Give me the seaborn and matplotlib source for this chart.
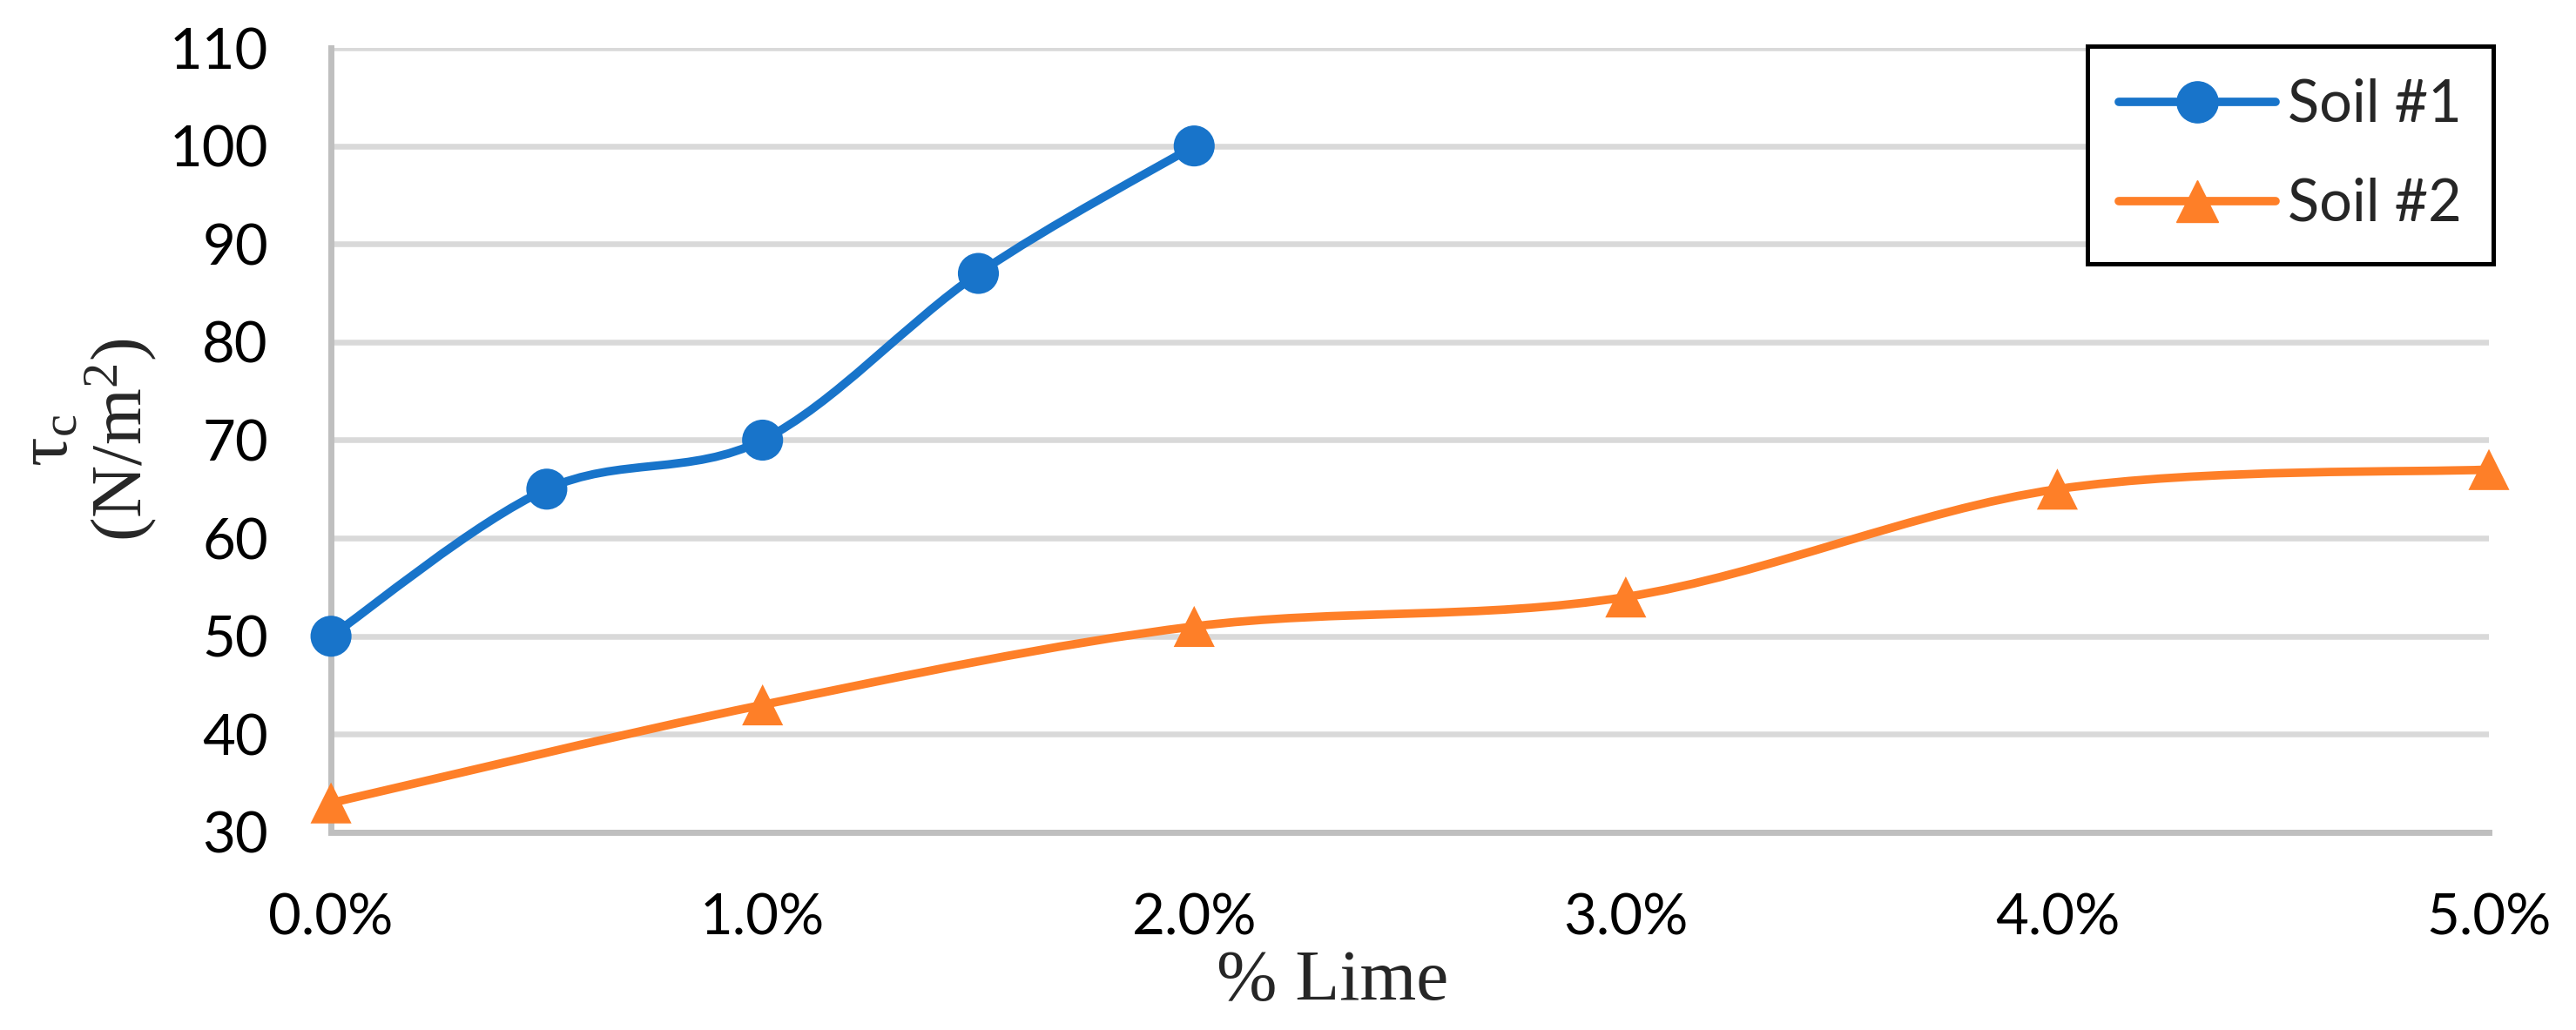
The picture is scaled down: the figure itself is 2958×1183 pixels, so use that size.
import numpy as np
import pandas as pd
import seaborn as sns
import matplotlib.pyplot as plt
from matplotlib.path import Path
from matplotlib.patches import PathPatch
from matplotlib.lines import Line2D
from matplotlib.ticker import PercentFormatter

# values
lime_soil1 = [0.0, 0.5, 1.0, 1.5, 2.0]
tau_soil1 = [50, 65, 70, 87, 100]
lime_soil2 = [0.0, 1.0, 2.0, 3.0, 4.0, 5.0]
tau_soil2 = [33, 43, 51, 54, 65, 67]
soil_names = ['Soil #1', 'Soil #2']
x_ticks = [0, 1, 2, 3, 4, 5]
y_ticks = [30, 40, 50, 60, 70, 80, 90, 100, 110]

palette = {'Soil #1': '#1874CA', 'Soil #2': '#FE7F28'}
marker_map = {'Soil #1': 'o', 'Soil #2': '^'}

df = pd.concat([
    pd.DataFrame({'lime': lime_soil1, 'tau': tau_soil1, 'soil': soil_names[0]}),
    pd.DataFrame({'lime': lime_soil2, 'tau': tau_soil2, 'soil': soil_names[1]}),
], ignore_index=True)

sns.set_style('white')
plt.rcParams['font.family'] = ['Lato', 'DejaVu Sans']
plt.rcParams['mathtext.fontset'] = 'custom'
plt.rcParams['mathtext.rm'] = 'Liberation Serif'
plt.rcParams['mathtext.it'] = 'Liberation Serif:italic'

fig = plt.figure(figsize=(29.58, 11.83), dpi=100)
ax = fig.add_axes([0.1285, 0.1919, 0.8377, 0.7616])


def smooth_path(xs, ys):
    # Excel-like smoothed line: Catmull-Rom segments drawn as cubic Beziers
    pts = np.column_stack([xs, ys]).astype(float)
    padded = np.vstack([pts[0], pts, pts[-1]])
    verts = [pts[0]]
    codes = [Path.MOVETO]
    for i in range(len(pts) - 1):
        p0, p1, p2, p3 = padded[i:i + 4]
        verts += [p1 + (p2 - p0) / 6, p2 - (p3 - p1) / 6, p2]
        codes += [Path.CURVE4] * 3
    return Path(verts, codes)


for name, g in df.groupby('soil'):
    ax.add_patch(PathPatch(smooth_path(g['lime'], g['tau']), facecolor='none',
                           edgecolor=palette[name], lw=7, capstyle='round',
                           joinstyle='round', zorder=3, clip_on=False))

sns.scatterplot(data=df, x='lime', y='tau', hue='soil', style='soil',
                palette=palette, markers=marker_map, s=1150, linewidth=0,
                legend=False, zorder=4, clip_on=False, ax=ax)

ax.set_xlim(0, 5)
ax.set_ylim(30, 110)
ax.set_xticks(x_ticks)
ax.set_yticks(y_ticks)
ax.xaxis.set_major_formatter(PercentFormatter(decimals=1))
ax.tick_params(axis='both', length=0, labelsize=47, colors='black')
ax.tick_params(axis='x', pad=50)
ax.tick_params(axis='y', pad=52)

ax.grid(axis='y', color='#D9D9D9', lw=4.7, zorder=0)
ax.set_axisbelow(True)
for side in ['top', 'right']:
    ax.spines[side].set_visible(False)
for side in ['left', 'bottom']:
    ax.spines[side].set_color('#BFBFBF')
    ax.spines[side].set_linewidth(5)

ax.set_xlabel('% Lime', fontsize=60, family='Liberation Serif')
ax.xaxis.set_label_coords(0.464, -0.149)
ax.set_ylabel('τ$_\\mathrm{c}$\n(N/m$^2$)', fontsize=60, family='Liberation Serif',
              linespacing=1.0)
ax.yaxis.set_label_coords(-0.08, 0.5)

handles = [Line2D([], [], color=palette[n], marker=marker_map[n], lw=7,
                  markersize=34, solid_capstyle='round') for n in soil_names]
leg = ax.legend(handles, soil_names, loc='upper right', bbox_to_anchor=(0.968, 0.955),
                bbox_transform=fig.transFigure, borderaxespad=0, fontsize=48,
                handlelength=2.7, handletextpad=0.2, borderpad=0.55, labelspacing=0.78,
                frameon=True, fancybox=False, framealpha=1, edgecolor='black')
leg.get_frame().set_linewidth(3.6)

fig.savefig('out.png', dpi=100)
